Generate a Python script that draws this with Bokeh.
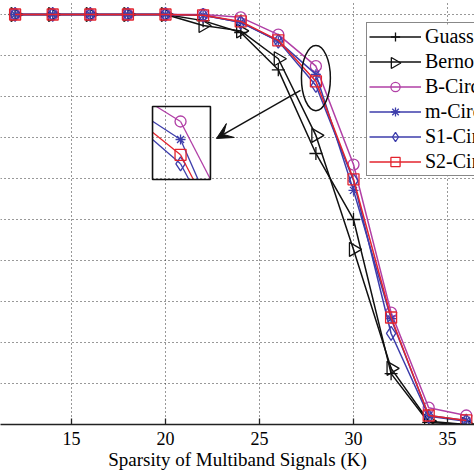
import numpy as np
from bokeh.plotting import figure
from bokeh.models import (Range1d, FixedTicker, Legend, LegendItem, Arrow, VeeHead,
                          ColumnDataSource)
from bokeh.embed import file_html
from bokeh.resources import INLINE

# ---------------- data ----------------
K = [12, 14, 16, 18, 20, 22, 24, 26, 28, 30, 32, 34, 36]
guass = [1.0, 1.0, 1.0, 1.0, 1.0, 0.985, 0.956, 0.865, 0.661, 0.500, 0.124, 0.005, 0.0]
bern = [1.0, 1.0, 1.0, 1.0, 1.0, 0.973, 0.960, 0.892, 0.705, 0.427, 0.137, 0.008, 0.0]
bcir = [1.0, 1.0, 1.0, 1.0, 1.0, 1.000, 0.993, 0.951, 0.874, 0.634, 0.273, 0.041, 0.022]
mcir = [1.0, 1.0, 1.0, 1.0, 1.0, 0.998, 0.981, 0.935, 0.854, 0.571, 0.258, 0.022, 0.010]
s1cir = [1.0, 1.0, 1.0, 1.0, 1.0, 0.998, 0.981, 0.935, 0.827, 0.595, 0.222, 0.020, 0.008]
s2cir = [1.0, 1.0, 1.0, 1.0, 1.0, 0.998, 0.983, 0.937, 0.837, 0.598, 0.261, 0.022, 0.010]
labels = ["Guassian", "Bernoulli", "B-Circulant", "m-Circulant", "S1-Circulant", "S2-Circulant"]
x_ticks = [10, 15, 20, 25, 30, 35, 40]
y_ticks = [0.0, 0.1, 0.2, 0.3, 0.4, 0.5, 0.6, 0.7, 0.8, 0.9, 1.0]

BLACK = "#111111"
MAG = "#b13fa6"
BLUE = "#3d3dab"
RED = "#e3242e"
SERIF = "Liberation Serif"

W, H, FRAME_H = 474, 474, 424

p = figure(width=W, height=H, output_backend="svg", toolbar_location=None,
           x_range=Range1d(11.2234, 36.436), y_range=Range1d(0.0, 1.0341),
           min_border_left=0, min_border_right=0, min_border_top=0, min_border_bottom=H - FRAME_H)
p.outline_line_color = None
p.background_fill_color = "white"
p.border_fill_color = "white"
p.yaxis.visible = False
# pixel-space ranges used only for the legend backdrop and its rotated marker
p.extra_x_ranges["px"] = Range1d(0, W)
p.extra_y_ranges["py"] = Range1d(0, FRAME_H)

ax = p.xaxis[0]
ax.ticker = FixedTicker(ticks=x_ticks)
ax.major_tick_in = 6
ax.major_tick_out = 0
ax.minor_tick_line_color = None
ax.axis_line_color = "#222222"
ax.axis_line_width = 1.3
ax.major_tick_line_color = "#222222"
ax.major_tick_line_width = 1.3
ax.major_label_text_font = SERIF
ax.major_label_text_font_size = "18px"
ax.major_label_text_color = "black"
ax.major_label_standoff = 7
ax.axis_label = "Sparsity of Multiband Signals (K)"
ax.axis_label_text_font = SERIF
ax.axis_label_text_font_size = "19px"
ax.axis_label_text_font_style = "normal"
ax.axis_label_text_color = "black"
ax.axis_label_standoff = 1

p.xgrid.ticker = FixedTicker(ticks=x_ticks)
p.ygrid.ticker = FixedTicker(ticks=y_ticks)
for g in (p.xgrid[0], p.ygrid[0]):
    g.grid_line_color = "#333333"
    g.grid_line_dash = "1 3"
    g.grid_line_width = 1.1

series = [
    (guass, BLACK, "cross", 13, 0.0),
    (bern, BLACK, "triangle", 14, -np.pi / 2),
    (bcir, MAG, "circle", 11, 0.0),
    (mcir, BLUE, "asterisk", 10, 0.0),
    (s1cir, BLUE, "diamond", 14, 0.0),
    (s2cir, RED, "square", 11, 0.0),
]

items = []
for (ys, col, mk, sz, ang), lab in zip(series, labels):
    src = ColumnDataSource(dict(x=K, y=ys))
    ln = p.line("x", "y", source=src, line_color=col, line_width=1.5)
    sc = p.scatter("x", "y", source=src, marker=mk, size=sz, angle=ang, line_color=col,
                   fill_color=None, line_width=1.3)
    rends = [ln] if ang != 0.0 else [ln, sc]
    items.append(LegendItem(label=lab, renderers=rends))

# ---------------- inset (zoom of the curves around K = 28) ----------------
bx0, bx1, by0, by1 = 19.31, 22.39, 0.5976, 0.7756
cx, cy, x_ref, y_ref, mx, my = 20.80, 0.739, 28.0, 0.874, 2.97, 2.195


def clip_seg(x0, y0, x1, y1):
    dx, dy = x1 - x0, y1 - y0
    t0, t1 = 0.0, 1.0
    for pp, qq in ((-dx, x0 - bx0), (dx, bx1 - x0), (-dy, y0 - by0), (dy, by1 - y0)):
        if pp == 0:
            if qq < 0:
                return None
        else:
            t = qq / pp
            if pp < 0:
                t0 = max(t0, t)
            else:
                t1 = min(t1, t)
    if t0 > t1:
        return None
    return [x0 + t0 * dx, x0 + t1 * dx], [y0 + t0 * dy, y0 + t1 * dy]


for ys, col, mk, sz, ang in series[2:]:
    tx = [cx + (k - x_ref) * mx for k in K]
    ty = [cy + (v - y_ref) * my for v in ys]
    segx, segy = [], []
    for i in range(len(K) - 1):
        r = clip_seg(tx[i], ty[i], tx[i + 1], ty[i + 1])
        if r is not None:
            segx.append(r[0])
            segy.append(r[1])
    p.multi_line(segx, segy, line_color=col, line_width=1.3)
    px = [a for a, b in zip(tx, ty) if bx0 <= a <= bx1 and by0 <= b <= by1]
    py = [b for a, b in zip(tx, ty) if bx0 <= a <= bx1 and by0 <= b <= by1]
    p.scatter(px, py, marker=mk, size=sz, angle=ang, line_color=col,
              fill_color=None, line_width=1.3)

p.quad(left=[bx0], right=[bx1], bottom=[by0], top=[by1], fill_color=None,
       line_color=BLACK, line_width=1.6)

# ellipse around K = 28 and arrow to inset
p.ellipse(x=[28.0], y=[0.845], width=[1.54], height=[0.159], fill_color=None,
          line_color=BLACK, line_width=1.5)
p.add_layout(Arrow(x_start=27.18, y_start=0.815, x_end=22.71, y_end=0.6976,
                   line_color=BLACK, line_width=1.5,
                   end=VeeHead(size=16, fill_color=BLACK, line_color=BLACK)))

# ---------------- legend ----------------
LEG_X, LEG_Y = 366, 248
GLYPH_W, ROW_H, SPACING, PAD = 52, 23, 2, 2
n_rows = len(labels)
leg_h = n_rows * ROW_H + (n_rows - 1) * SPACING + 2 * PAD

# white backdrop (legend itself is transparent so the rotated marker shows)
p.quad(left=[LEG_X], right=[W + 50], bottom=[LEG_Y], top=[LEG_Y + leg_h],
       fill_color="white", line_color=None, x_range_name="px", y_range_name="py")
row_idx = 1
row_cy = LEG_Y + leg_h - PAD - row_idx * (ROW_H + SPACING) - ROW_H / 2
row_cx = LEG_X + PAD + GLYPH_W / 2
p.scatter([row_cx], [row_cy], marker="triangle", size=11, angle=-np.pi / 2,
          line_color=BLACK, fill_color=None, line_width=1.3,
          x_range_name="px", y_range_name="py")

legend = Legend(items=items, location=(LEG_X, LEG_Y))
legend.label_text_font = SERIF
legend.label_text_font_size = "20px"
legend.label_text_color = "black"
legend.glyph_width = GLYPH_W
legend.glyph_height = ROW_H
legend.label_height = ROW_H
legend.spacing = SPACING
legend.padding = PAD
legend.margin = 0
legend.label_standoff = 4
legend.border_line_color = BLACK
legend.border_line_width = 1.6
legend.background_fill_alpha = 0.0
p.add_layout(legend)

open("out.html", "w").write(file_html(p, INLINE))
